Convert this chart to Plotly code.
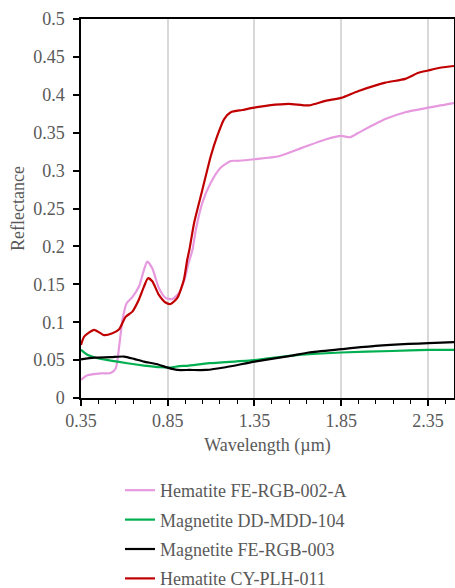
import plotly.graph_objects as go

# Hematite FE-RGB-002-A (pink)
hem1_x = [0.35, 0.387, 0.464, 0.521, 0.55, 0.57, 0.589, 0.613, 0.646, 0.684, 0.713, 0.732, 0.761, 0.799, 0.837, 0.876, 0.914, 0.946, 0.97, 0.993, 1.012, 1.05, 1.098, 1.156, 1.213, 1.26, 1.35, 1.49, 1.624, 1.759, 1.85, 1.9, 1.95, 2.104, 2.219, 2.35, 2.5]
hem1_y = [0.024, 0.030, 0.0326, 0.033, 0.039, 0.068, 0.103, 0.125, 0.133, 0.147, 0.169, 0.180, 0.171, 0.145, 0.132, 0.1305, 0.138, 0.156, 0.178, 0.196, 0.222, 0.258, 0.284, 0.304, 0.3126, 0.313, 0.315, 0.319, 0.330, 0.341, 0.3457, 0.344, 0.350, 0.368, 0.377, 0.383, 0.389]

# Magnetite DD-MDD-104 (green)
mag1_x = [0.35, 0.387, 0.445, 0.521, 0.617, 0.713, 0.809, 0.866, 0.916, 0.962, 1.089, 1.35, 1.567, 1.85, 2.142, 2.353, 2.5]
mag1_y = [0.0635, 0.057, 0.0525, 0.0494, 0.0458, 0.0428, 0.0406, 0.0402, 0.042, 0.0425, 0.0459, 0.050, 0.056, 0.060, 0.062, 0.0635, 0.0635]

# Magnetite FE-RGB-003 (black)
mag2_x = [0.35, 0.426, 0.521, 0.598, 0.656, 0.713, 0.79, 0.849, 0.905, 0.974, 1.07, 1.184, 1.35, 1.567, 1.663, 1.85, 2.047, 2.238, 2.353, 2.5]
mag2_y = [0.051, 0.0533, 0.0538, 0.0547, 0.0516, 0.048, 0.0445, 0.040, 0.037, 0.037, 0.037, 0.0406, 0.048, 0.056, 0.060, 0.0644, 0.0688, 0.0714, 0.0723, 0.0737]

# Hematite CY-PLH-011 (red)
hem2_x = [0.35, 0.368, 0.426, 0.483, 0.531, 0.57, 0.607, 0.646, 0.684, 0.713, 0.736, 0.761, 0.799, 0.837, 0.866, 0.905, 0.943, 0.962, 0.975, 1.002, 1.05, 1.098, 1.136, 1.175, 1.213, 1.28, 1.347, 1.433, 1.548, 1.663, 1.759, 1.85, 1.95, 2.104, 2.219, 2.295, 2.35, 2.428, 2.5]
hem2_y = [0.070, 0.081, 0.090, 0.083, 0.0855, 0.0908, 0.107, 0.114, 0.130, 0.147, 0.158, 0.154, 0.136, 0.126, 0.124, 0.132, 0.156, 0.182, 0.196, 0.231, 0.275, 0.319, 0.346, 0.368, 0.377, 0.380, 0.383, 0.386, 0.388, 0.386, 0.392, 0.396, 0.405, 0.416, 0.421, 0.429, 0.432, 0.436, 0.438]

series_names = ["Hematite FE-RGB-002-A", "Magnetite DD-MDD-104", "Magnetite FE-RGB-003", "Hematite CY-PLH-011"]
series_colors = ["#E699DF", "#00B050", "#000000", "#C00000"]

x_tickvals = [0.35, 0.85, 1.35, 1.85, 2.35]
x_ticktext = ["0.35", "0.85", "1.35", "1.85", "2.35"]
y_tickvals = [0, 0.05, 0.1, 0.15, 0.2, 0.25, 0.3, 0.35, 0.4, 0.45, 0.5]
y_ticktext = ["0", "0.05", "0.1", "0.15", "0.2", "0.25", "0.3", "0.35", "0.4", "0.45", "0.5"]

FONT = "Liberation Serif"
GREY = "#595959"

L, R, T, B = 81, 1, 19, 190
PW = 455 - L - R
PH = 588 - T - B

fig = go.Figure()
data = [(hem1_x, hem1_y), (mag1_x, mag1_y), (mag2_x, mag2_y), (hem2_x, hem2_y)]
for i, ((xs, ys), name, col) in enumerate(zip(data, series_names, series_colors)):
    fig.add_trace(go.Scatter(
        x=xs, y=ys, mode="lines", name=name, legendgroup=f"g{i}",
        line=dict(color=col, width=2.2, shape="spline", smoothing=0.6),
    ))

fig.update_layout(
    width=455, height=588,
    margin=dict(l=L, r=R, t=T, b=B, autoexpand=False),
    paper_bgcolor="white", plot_bgcolor="white",
    font=dict(family=FONT, size=18, color=GREY),
    showlegend=True,
    legend=dict(
        orientation="v", x=(120 - L) / PW, xanchor="left",
        y=(588 - B - 472) / PH, yanchor="top",
        tracegroupgap=3, font=dict(family=FONT, size=18, color=GREY),
        bgcolor="rgba(0,0,0,0)",
    ),
)

fig.update_xaxes(
    range=[0.35, 2.5], tickvals=x_tickvals, ticktext=x_ticktext,
    showline=True, linecolor="black", linewidth=1.5, mirror=True,
    ticks="outside", ticklen=6, tickwidth=1.5, tickcolor="black",
    showgrid=True, gridcolor="#D9D9D9", gridwidth=1.5, zeroline=False,
    minor=dict(dtick=0.1, tick0=0.35, ticks="outside", ticklen=4, tickwidth=1, tickcolor="black", showgrid=False),
    tickfont=dict(family=FONT, size=18, color=GREY),
    title=dict(text="Wavelength (µm)", font=dict(family=FONT, size=18, color=GREY), standoff=8),
)
fig.update_yaxes(
    range=[0, 0.5], tickvals=y_tickvals, ticktext=y_ticktext,
    showline=True, linecolor="black", linewidth=1.5, mirror=True,
    ticks="outside", ticklen=6, tickwidth=1.5, tickcolor="black",
    showgrid=False, zeroline=False, ticklabelstandoff=5,
    tickfont=dict(family=FONT, size=18, color=GREY),
    title=dict(text="Reflectance", font=dict(family=FONT, size=18, color=GREY), standoff=4),
)

fig.write_html(
    "out.html",
    config={"displayModeBar": False},
    post_script="document.body.style.margin='0';document.body.style.overflow='hidden';",
)
